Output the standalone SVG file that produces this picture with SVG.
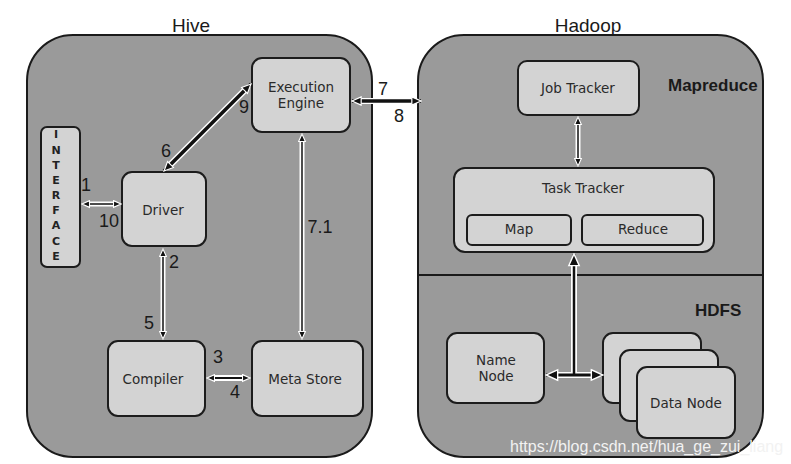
<svg xmlns="http://www.w3.org/2000/svg" width="791" height="464" viewBox="0 0 791 464">
<defs>
<style>
.cont{fill:#9a9a9a;stroke:#1a1a1a;stroke-width:2}
.node{fill:#d3d3d3;stroke:#1c1c1c;stroke-width:2}
.nt{font-family:"DejaVu Sans",Verdana,sans-serif;font-size:13.5px;fill:#2a2a2a;text-anchor:middle}
.title{font-family:"Liberation Sans",Arial,sans-serif;font-size:19px;fill:#1a1a1a;text-anchor:middle}
.num{font-family:"Liberation Sans",Arial,sans-serif;font-size:18px;fill:#1a1a1a;text-anchor:middle}
.bold{font-family:"Liberation Sans",Arial,sans-serif;font-size:17px;font-weight:bold;fill:#1a1a1a}
.iface{font-family:"DejaVu Sans",Verdana,sans-serif;font-size:11px;font-weight:bold;fill:#222;text-anchor:middle}
.halo{stroke:#fff;fill:none;stroke-linecap:butt}
.core{stroke:#111;fill:none}
</style>
<marker id="aS" viewBox="0 0 12 12" refX="11" refY="6" markerWidth="9" markerHeight="9" orient="auto-start-reverse" markerUnits="userSpaceOnUse"><path d="M1,1.5 L11,6 L1,10.5 Z" fill="#111" stroke="#fff" stroke-width="1.5"/></marker>
<marker id="aM" viewBox="0 0 12 12" refX="11" refY="6" markerWidth="11" markerHeight="11" orient="auto-start-reverse" markerUnits="userSpaceOnUse"><path d="M1,1.5 L11,6 L1,10.5 Z" fill="#111" stroke="#fff" stroke-width="1.3"/></marker>
<marker id="aL" viewBox="0 0 12 12" refX="11" refY="6" markerWidth="14" markerHeight="14" orient="auto-start-reverse" markerUnits="userSpaceOnUse"><path d="M1,1.5 L11,6 L1,10.5 Z" fill="#111" stroke="#fff" stroke-width="1.2"/></marker>
</defs>
<rect width="791" height="464" fill="#fff"/>

<g id="hive">
<rect class="cont" x="27" y="35" width="345" height="422" rx="46"/>
<text class="title" x="191" y="32">Hive</text>
</g>
<g id="hadoop">
<rect class="cont" x="418" y="35" width="345" height="422" rx="46"/>
<line x1="418" y1="275" x2="763" y2="275" stroke="#1a1a1a" stroke-width="2"/>
<text class="title" x="588" y="32">Hadoop</text>
<text class="bold" x="668" y="91" font-size="16.5">Mapreduce</text>
<text class="bold" x="695" y="316">HDFS</text>
</g>

<g id="interface">
<rect class="node" x="41" y="127" width="39" height="140" rx="6"/>
<text class="iface" x="56" y="138">I</text>
<text class="iface" x="56" y="154">N</text>
<text class="iface" x="56" y="169">T</text>
<text class="iface" x="56" y="184">E</text>
<text class="iface" x="56" y="199">R</text>
<text class="iface" x="56" y="214">F</text>
<text class="iface" x="56" y="229">A</text>
<text class="iface" x="56" y="245">C</text>
<text class="iface" x="56" y="260">E</text>
</g>
<g id="execution-engine">
<rect class="node" x="252" y="58" width="98" height="74" rx="10"/>
<text class="nt" x="301" y="92">Execution</text>
<text class="nt" x="301" y="108">Engine</text>
</g>
<g id="driver">
<rect class="node" x="122" y="172" width="84" height="74" rx="10"/>
<text class="nt" x="163" y="215">Driver</text>
</g>
<g id="compiler">
<rect class="node" x="108" y="341" width="97" height="75" rx="10"/>
<text class="nt" x="153" y="384">Compiler</text>
</g>
<g id="meta-store">
<rect class="node" x="252" y="341" width="111" height="75" rx="10"/>
<text class="nt" x="305" y="384">Meta Store</text>
</g>
<g id="job-tracker">
<rect class="node" x="518" y="61" width="121" height="54" rx="9"/>
<text class="nt" x="578" y="93">Job Tracker</text>
</g>
<g id="task-tracker">
<rect class="node" x="454" y="168" width="260" height="84" rx="11"/>
<text class="nt" x="583" y="193" font-size="14.5">Task Tracker</text>
</g>
<g id="map">
<rect class="node" x="467" y="215" width="104" height="30" rx="5"/>
<text class="nt" x="519" y="234" font-size="12.5">Map</text>
</g>
<g id="reduce">
<rect class="node" x="582" y="215" width="121" height="30" rx="5"/>
<text class="nt" x="643" y="234" font-size="12.5">Reduce</text>
</g>
<g id="name-node">
<rect class="node" x="447" y="333" width="97" height="70" rx="10"/>
<text class="nt" x="496" y="365">Name</text>
<text class="nt" x="496" y="381">Node</text>
</g>
<g id="data-node">
<rect class="node" x="603" y="333" width="98" height="70" rx="10"/>
<rect class="node" x="620" y="350" width="98" height="71" rx="10"/>
<rect class="node" x="637" y="367" width="98" height="71" rx="10"/>
<text class="nt" x="686" y="408">Data Node</text>
</g>

<g id="connectors">
<g class="halos">
<line class="halo" x1="87" y1="204" x2="116" y2="204" stroke-width="5"/>
<line class="halo" x1="168.5" y1="166.5" x2="246.5" y2="88.5" stroke-width="6.5"/>
<line class="halo" x1="163" y1="255" x2="163" y2="333" stroke-width="5"/>
<line class="halo" x1="213" y1="378" x2="244" y2="378" stroke-width="6"/>
<line class="halo" x1="302" y1="140" x2="302" y2="333" stroke-width="5"/>
<line class="halo" x1="359" y1="101" x2="414" y2="101" stroke-width="6"/>
<line class="halo" x1="578" y1="123" x2="578" y2="160" stroke-width="5"/>
<line class="halo" x1="556" y1="375" x2="593" y2="375" stroke-width="6"/>
<line class="halo" x1="574" y1="375" x2="574" y2="264" stroke-width="6"/>
</g>
<line class="core" x1="82" y1="204" x2="121" y2="204" stroke-width="1.6" marker-start="url(#aS)" marker-end="url(#aS)"/>
<line class="core" x1="164" y1="171" x2="251" y2="84" stroke-width="3.5" marker-start="url(#aM)" marker-end="url(#aM)"/>
<line class="core" x1="163" y1="249" x2="163" y2="339" stroke-width="1.5" marker-start="url(#aS)" marker-end="url(#aS)"/>
<line class="core" x1="207" y1="378" x2="250" y2="378" stroke-width="2" marker-start="url(#aS)" marker-end="url(#aS)"/>
<line class="core" x1="302" y1="134" x2="302" y2="339" stroke-width="1.5" marker-start="url(#aS)" marker-end="url(#aS)"/>
<line class="core" x1="352" y1="101" x2="421" y2="101" stroke-width="3.5" marker-start="url(#aM)" marker-end="url(#aM)"/>
<line class="core" x1="578" y1="117" x2="578" y2="166" stroke-width="1.5" marker-start="url(#aS)" marker-end="url(#aS)"/>
<line class="core" x1="546" y1="375" x2="603" y2="375" stroke-width="3" marker-start="url(#aL)" marker-end="url(#aL)"/>
<line class="core" x1="574" y1="375" x2="574" y2="254" stroke-width="2.5" marker-end="url(#aL)"/>
</g>

<g id="labels">
<text class="num" x="86" y="191">1</text>
<text class="num" x="109" y="227">10</text>
<text class="num" x="166" y="157">6</text>
<text class="num" x="244" y="113">9</text>
<text class="num" x="383" y="95">7</text>
<text class="num" x="399" y="122">8</text>
<text class="num" x="320" y="233">7.1</text>
<text class="num" x="174" y="268">2</text>
<text class="num" x="149" y="329">5</text>
<text class="num" x="218" y="363">3</text>
<text class="num" x="235" y="398">4</text>
</g>
<text x="510" y="452" font-family="'Liberation Sans',Arial,sans-serif" font-size="16" fill="#f2f2f2">https://blog.csdn.net/hua_ge_zui_liang</text>
</svg>
